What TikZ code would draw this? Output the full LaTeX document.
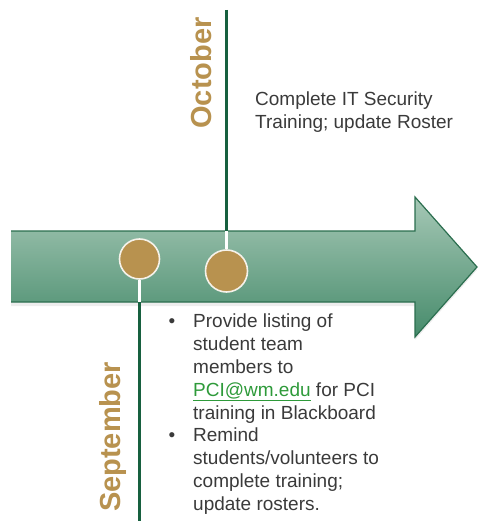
\documentclass[tikz,border=0pt]{standalone}
\usepackage{fontspec}
\setmainfont{Liberation Sans}
\definecolor{wmgreen}{HTML}{17603F}
\definecolor{wmgold}{HTML}{B8924F}
\definecolor{arrowtop}{HTML}{A6C8B6}
\definecolor{arrowbot}{HTML}{468B6B}
\definecolor{arrowedge}{HTML}{2B6E4F}
\definecolor{linkgreen}{HTML}{2E9A3A}
\definecolor{bodygray}{HTML}{3A3A3A}
\begin{document}
\begin{tikzpicture}[x=1pt,y=-1pt,
  month/.style={text=wmgold,font=\fontsize{29}{29}\selectfont\bfseries,rotate=90,inner sep=0pt},
  bodytext/.style={text=bodygray,font=\fontsize{19}{22.8}\selectfont,align=left,inner sep=0pt},
  dot/.style={draw=white!88!wmgold,line width=1.6pt,fill=wmgold,circle,inner sep=0pt},
  monthline/.style={draw=wmgreen,line width=2.6pt},
  gapline/.style={draw=white,line width=2.6pt}]
\useasboundingbox (0,0) rectangle (478,521);
% timeline arrow
\fill[black!7] (11,234) -- (415,234) -- (415,200) -- (477,270) -- (415,340) -- (415,306) -- (11,306) -- cycle;
\shade[top color=arrowtop,bottom color=arrowbot] (11,231) -- (415,231) -- (415,197) -- (477,267) -- (415,337) -- (415,302) -- (11,302) -- cycle;
\draw[arrowedge,line width=1.2pt,line join=miter] (11,231) -- (415,231) -- (415,197) -- (477,267) -- (415,337) -- (415,302) -- (11,302);
% October
\coordinate (octtop) at (226.5,10);
\coordinate (octarr) at (226.5,231);
\node[dot,minimum size=42pt] (octdot) at (226.5,271) {};
\path[monthline] (octtop) -- (octarr);
\path[gapline] (octarr) -- (octdot.north);
\node[month] (oct) at (201,73) {October};
\node[bodytext,anchor=north west] (octnote) at (255,91.5) {Complete IT Security\\Training; update Roster};
% September
\coordinate (separr) at (139.5,302);
\coordinate (sepbot) at (139.5,521);
\node[dot,minimum size=40pt] (sepdot) at (139.5,259) {};
\path[gapline] (sepdot.south) -- (separr);
\path[monthline] (separr) -- (sepbot);
\node[month] (sep) at (113.5,437) {September};
\node[bodytext,anchor=north west] (sepnote) at (193,314) {\llap{\textbullet\hspace{18pt}}Provide listing of\\
student team\\
members to\\
\textcolor{linkgreen}{\underline{PCI@wm.edu}} for PCI\\
training in Blackboard\\
\llap{\textbullet\hspace{18pt}}Remind\\
students/volunteers to\\
complete training;\\
update rosters.};
\end{tikzpicture}
\end{document}
